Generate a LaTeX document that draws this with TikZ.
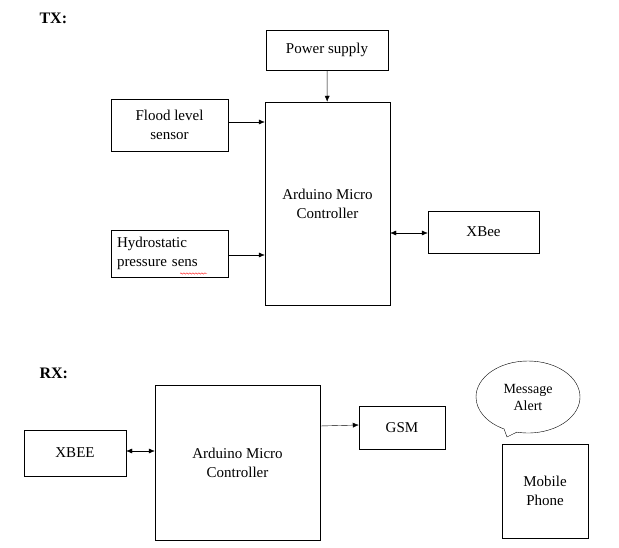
\documentclass[tikz,border=0pt]{standalone}
\usepackage{fontspec}
\setmainfont{Liberation Serif}
\usetikzlibrary{shapes.callouts,decorations.pathmorphing,arrows.meta}
\begin{document}
\begin{tikzpicture}[x=1pt,y=-1pt,
  blk/.style={draw,thin,align=center,font=\fontsize{15}{19}\selectfont},
  arr/.style={-{Latex[length=6pt,width=5pt]},thin},
  darr/.style={{Latex[length=6pt,width=5pt]}-{Latex[length=6pt,width=5pt]},thin},
  lbl/.style={font=\fontsize{16}{19}\selectfont\bfseries,anchor=west}]
\useasboundingbox (0,0) rectangle (619,548);
\node[lbl] (tx) at (36,18) {TX:};
\node[lbl] (rx) at (36,373) {RX:};
\node[blk,minimum width=122,minimum height=40] (ps) at (327,50) {Power supply};
\node[blk,minimum width=125,minimum height=203] (ard) at (327.5,203.5) {Arduino Micro\\Controller};
\node[blk,minimum width=117,minimum height=52] (fl) at (169.5,125) {Flood level\\sensor};
\node[blk,minimum width=117,minimum height=47,align=left,text width=105] (hy) at (169.5,253.5) {Hydrostatic\\pressure sens};
\node[blk,minimum width=111,minimum height=42] (xb) at (483.5,232) {XBee};
\draw[arr] (ps) -- (ard);
\draw[arr] (fl.east |- 0,122) -- (ard.west |- 0,122);
\draw[arr] (hy.east |- 0,255) -- (ard.west |- 0,255);
\draw[darr] (ard.east |- 0,233) -- (xb.west |- 0,233);
\draw[red,decorate,decoration={snake,amplitude=0.7,segment length=3}] (180,273.5) -- (207,273.5);
\node[blk,minimum width=102,minimum height=46] (xb2) at (75,453) {XBEE};
\node[blk,minimum width=165,minimum height=155] (ard2) at (237.5,462.5) {Arduino Micro\\Controller};
\node[blk,minimum width=86,minimum height=43] (gsm) at (402,427.5) {GSM};
\node[blk,minimum width=86,minimum height=94] (mob) at (545,491) {Mobile\\Phone};
\node[draw,thin,ellipse callout,minimum width=104,minimum height=72,callout absolute pointer={(507,437)},align=center,font=\fontsize{14}{17}\selectfont] (msg) at (528,397) {Message\\Alert};
\draw[darr] (xb2.east |- 0,451) -- (ard2.west |- 0,451);
\draw[arr] (ard2.east |- 0,426) -- (gsm.west |- 0,425);
\end{tikzpicture}
\end{document}
